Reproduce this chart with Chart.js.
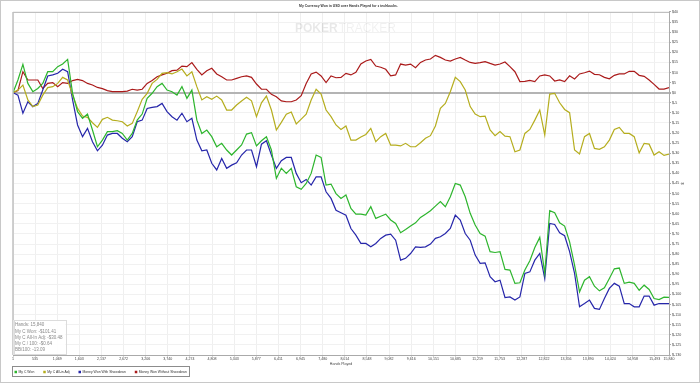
<!DOCTYPE html>
<html><head><meta charset="utf-8">
<script src="https://cdn.jsdelivr.net/npm/chart.js@4.4.1/dist/chart.umd.min.js"></script>
<style>html,body{margin:0;padding:0;background:#fff;} #wrap{position:relative;width:700px;height:383px;}</style>
</head><body><div id="wrap"><canvas id="c"></canvas></div>
<script>
const hands = [1,120,240,360,480,600,720,840,960,1080,1200,1320,1440,1560,1680,1800,1920,2040,2160,2280,2400,2520,2640,2760,2880,3000,3120,3240,3360,3480,3600,3720,3840,3960,4080,4200,4320,4440,4560,4680,4800,4920,5040,5160,5280,5400,5520,5640,5760,5880,6000,6120,6240,6360,6480,6600,6720,6840,6960,7080,7200,7320,7440,7560,7680,7800,7920,8040,8160,8280,8400,8520,8640,8760,8880,9000,9120,9240,9360,9480,9600,9720,9840,9960,10080,10200,10320,10440,10560,10680,10800,10920,11040,11160,11280,11400,11520,11640,11760,11880,12000,12120,12240,12360,12480,12600,12720,12840,12960,13080,13200,13320,13440,13560,13680,13800,13920,14040,14160,14280,14400,14520,14640,14760,14880,15000,15120,15240,15360,15480,15600,15720,15840];

const myCWon = [0,6.3,14,4.6,0.5,2.1,4.6,10.4,10.4,12.9,14.2,16.5,-0.3,-9.4,-12.7,-10.6,-18.5,-26.8,-23.5,-19.3,-19.3,-18.8,-20.2,-23.5,-20.2,-13.6,-10.6,-2.8,-0.3,3.0,4.6,1.3,0.5,-1.2,3.0,-2.8,1.3,-13.6,-20.2,-18.5,-21.8,-26.8,-25.1,-28.4,-30.9,-28.4,-25.9,-20.5,-19.8,-26.4,-23.8,-21.8,-28.4,-42.5,-37.5,-40.0,-37.5,-46.6,-47.9,-45.0,-40.0,-30.9,-32.1,-45.8,-45.3,-50.0,-52.4,-50.7,-57.4,-60.2,-60.2,-60.7,-56.5,-62.3,-61.2,-60.2,-63.1,-64.8,-69.4,-67.8,-66.1,-64.5,-61.8,-60.2,-58.5,-56.2,-54.0,-56.5,-51.6,-45.0,-45.8,-51.6,-59.8,-65.6,-69.8,-71.1,-78.8,-79.2,-78.8,-87.6,-87.9,-94.5,-94.2,-87.9,-83.3,-76.7,-71.7,-89.6,-58.5,-59.5,-64.5,-66.1,-73.9,-85.5,-98.7,-92.9,-91.2,-95.9,-98.2,-96.7,-92.1,-87.3,-86.9,-94.5,-93.9,-94.5,-97.9,-95.4,-97.5,-102.0,-102.5,-101.3,-101.41];

const myCAllInAdj = [0,1.3,3.8,-3.6,-6.9,-6.1,-1.2,2.5,3.0,4.6,7.6,6.3,-1.2,-7.8,-11.6,-12.2,-14.9,-17.2,-13.2,-12.2,-13.6,-13.9,-14.4,-16.5,-15.2,-9.4,-3.3,-0.3,4.6,6.6,9.6,9.9,9.3,10.4,11.7,8.3,10.4,3.0,-3.6,-2.0,-3.3,-1.7,-3.6,-8.6,-8.6,-6.1,-4.1,-2.3,-4.0,-11.9,-5.0,-1.7,-8.6,-18.5,-14.7,-10.7,-9.6,-15.5,-13.1,-10.6,-3.6,1.7,-0.7,-8.6,-11.9,-16.0,-18.2,-16.5,-23.5,-23.5,-22.0,-20.7,-17.7,-24.3,-21.8,-20.2,-26.0,-26.0,-26.4,-25.1,-26.8,-26.8,-24.8,-22.6,-21.3,-16.5,-7.8,-5.3,0.5,7.6,5.5,1.3,-6.9,-10.6,-11.9,-11.6,-18.5,-21.3,-19.3,-21.5,-21.8,-29.3,-28.4,-20.2,-18.2,-13.6,-8.6,-21.0,-0.7,-0.3,-5.0,-8.3,-9.9,-28.4,-30.4,-21.8,-20.2,-27.6,-28.1,-26.8,-23.5,-18.2,-17.2,-20.2,-20.2,-21.8,-29.8,-25.1,-25.5,-30.9,-29.3,-31.1,-30.48];

const wonWithSD = [0,-1.2,-10.2,-4.5,-6.9,-5.3,1.3,8.3,8.8,9.6,11.6,10.4,-3.6,-16.0,-21.8,-17.7,-24.3,-28.8,-26.0,-21.0,-20.2,-20.2,-22.6,-24.3,-21.8,-14.4,-13.6,-7.8,-7.3,-6.9,-5.3,-9.4,-11.9,-13.6,-10.2,-14.4,-12.7,-23.5,-28.8,-28.4,-35.0,-38.3,-32.6,-37.5,-35.9,-34.7,-30.9,-28.4,-28.4,-36.7,-25.5,-23.8,-30.9,-37.5,-33.7,-32.1,-32.1,-40.0,-44.6,-43.0,-45.8,-41.7,-41.7,-49.1,-52.4,-58.3,-59.5,-60.7,-67.3,-70.6,-74.7,-74.7,-76.4,-74.7,-72.2,-70.6,-70.1,-73.1,-83.0,-82.1,-79.7,-76.4,-76.7,-76.4,-75.0,-72.2,-71.4,-69.8,-67.3,-60.7,-63.1,-69.8,-73.1,-80.5,-84.6,-84.3,-91.2,-93.7,-92.9,-101.5,-101.2,-102.8,-101.2,-89.6,-88.8,-83.0,-79.7,-92.1,-64.8,-65.3,-69.4,-70.9,-78.8,-89.6,-106.1,-104.5,-102.8,-106.9,-107.4,-102.0,-97.0,-94.5,-95.9,-104.5,-104.5,-106.1,-106.1,-100.8,-100.8,-105.3,-104.5,-104.5,-104.5];

const wonWithoutSD = [0,1.0,10.4,6.3,6.3,6.3,2.1,4.6,5.0,3.0,5.0,4.6,6.0,6.6,6.0,4.6,3.8,2.6,2.0,1.0,0.5,0.5,0.5,0.8,1.7,1.3,1.7,4.6,6.0,7.9,8.8,9.6,10.9,11.2,13.2,12.9,14.9,11.6,8.8,10.9,12.1,9.3,7.9,6.3,6.3,7.1,7.9,8.3,7.6,4.3,1.7,1.7,-0.8,-2.0,-4.1,-4.5,-4.5,-3.6,-1.5,4.6,9.3,10.2,8.3,5.0,8.3,7.4,7.6,9.6,8.8,10.1,14.2,15.7,16.5,13.2,12.6,11.6,8.3,8.8,14.2,13.7,14.2,12.4,15.0,16.2,16.7,18.5,17.5,16.2,15.7,16.7,17.5,16.2,15.0,14.5,14.9,15.4,14.5,13.7,14.2,15.2,12.9,10.4,5.5,5.6,6.1,5.5,8.3,8.8,8.3,5.8,6.3,5.5,8.4,6.8,9.3,9.9,10.7,9.1,8.9,7.6,6.9,8.6,9.3,9.3,10.6,10.6,8.6,8.1,6.3,4.1,1.8,1.8,2.5];

const xTickValues = [1,535,1069,1603,2137,2672,3206,3740,4274,4808,5343,5877,6411,6945,7480,8014,8548,9082,9616,10151,10685,11219,11753,12287,12822,13356,13890,14424,14958,15493,15840];
const seriesNames = ['My C Won','My C All-in Adj','Money Won With Showdown','Money Won Without Showdown'];
const seriesColors = ['#2db52d','#b5ad1e','#2626aa','#aa1a1a'];
const statsLines = ['Hands: 15,840','My C Won: -$101.41','My C All-In Adj: -$30.48','My C / 100: -$0.64','BB/100: -13.09'];
const titleText = 'My Currency Won in USD over Hands Played for \u2666 techbucks.';

const FONT = "'Liberation Sans', Arial, sans-serif";
const seriesValues = [myCWon, myCAllInAdj, wonWithSD, wonWithoutSD];

const decor = {
  id: 'decor',
  beforeDraw(chart) {
    const c = chart.ctx;
    c.save();
    c.fillStyle = '#fff';
    c.fillRect(0, 0, chart.width, chart.height);
    c.strokeStyle = '#c8c8c8';
    c.lineWidth = 1;
    c.strokeRect(0.5, 0.5, chart.width - 1, chart.height - 1);
    c.restore();
  },
  beforeDatasetsDraw(chart) {
    const c = chart.ctx;
    c.save();
    c.textBaseline = 'alphabetic';
    c.font = "bold 12px " + FONT;
    c.fillStyle = 'rgba(0,0,0,0.09)';
    c.fillText('POKER', 295, 32);
    const w = c.measureText('POKER').width;
    c.font = "12px " + FONT;
    c.fillStyle = 'rgba(0,0,0,0.06)';
    c.fillText('TRACKER', 295 + w + 1, 32);
    c.restore();
  },
  afterDraw(chart) {
    const c = chart.ctx, a = chart.chartArea;
    c.save();
    c.strokeStyle = '#c0c0c0';
    c.lineWidth = 1;
    c.beginPath();
    c.moveTo(a.left, Math.round(a.top) + 0.5); c.lineTo(a.right, Math.round(a.top) + 0.5);
    c.stroke();
    c.lineWidth = 1.5;
    c.beginPath();
    c.moveTo(a.left, a.top); c.lineTo(a.left, a.bottom);
    c.stroke();
    // stats box
    const bx = a.left + 0.5, by = 320, bw = 52, bh = a.bottom - 320;
    c.fillStyle = 'rgba(255,255,255,0.9)';
    c.fillRect(bx, by, bw, bh);
    c.strokeStyle = '#dcdcdc';
    c.lineWidth = 1;
    c.strokeRect(Math.round(bx) + 0.5, by + 0.5, bw, bh - 1);
    c.fillStyle = '#8a8a8a';
    c.font = "4.5px " + FONT;
    c.textBaseline = 'middle';
    statsLines.forEach((t, i) => c.fillText(t, bx + 1.5, by + 5.2 + i * 6.25));
    // legend
    c.font = "3.4px " + FONT;
    c.textBaseline = 'middle';
    let x = 14.5;
    const ly = 372;
    seriesNames.forEach((name, i) => {
      c.fillStyle = seriesColors[i];
      c.fillRect(x, ly - 1.25, 2.5, 2.5);
      c.fillStyle = '#333';
      c.fillText(name, x + 4, ly);
      x += 4 + c.measureText(name).width + 9;
    });
    c.strokeStyle = '#8c8c8c';
    c.lineWidth = 1;
    c.strokeRect(12.5, 366.5, Math.round(x - 9 + 3 - 12.5), 10);
    c.restore();
  }
};

new Chart(document.getElementById('c'), {
  type: 'line',
  data: {
    datasets: seriesNames.map((name, i) => ({
      label: name,
      data: hands.map((h, j) => ({x: h, y: seriesValues[i][j]})),
      borderColor: seriesColors[i],
      backgroundColor: seriesColors[i],
      borderWidth: 1.2,
      pointRadius: 0,
      tension: 0,
      fill: false
    }))
  },
  options: {
    responsive: true,
    maintainAspectRatio: false,
    animation: false,
    events: [],
    layout: {padding: {left: 13, right: 16, top: 0, bottom: 17}},
    plugins: {
      title: {display: true, text: titleText, color: '#333', font: {size: 3.4, family: FONT}, padding: {top: 4.3, bottom: 3.6}},
      legend: {display: false},
      tooltip: {enabled: false}
    },
    scales: {
      x: {
        type: 'linear', min: 1, max: 15840,
        afterBuildTicks: s => { s.ticks = xTickValues.map(v => ({value: v})); },
        afterFit: s => { s.height = 11; },
        ticks: {autoSkip: false, maxRotation: 0, color: '#444', font: {size: 3.6, family: FONT}, padding: 0.5,
          callback: v => Number(v).toLocaleString('en-US')},
        grid: {color: '#efefef', tickLength: 1.5, tickColor: '#aaa'},
        border: {color: '#aaa', width: 1},
        title: {display: true, text: 'Hands Played', color: '#444', font: {size: 3.6, family: FONT}, padding: {top: 0.8, bottom: 0}}
      },
      y: {
        position: 'right', min: -130, max: 40,
        afterFit: s => { s.width = 15; },
        ticks: {stepSize: 5, color: '#444', font: {size: 3.6, family: FONT}, padding: 1,
          callback: v => '$' + v},
        grid: {
          color: ctx => (ctx.tick && ctx.tick.value === 0) ? '#b4b4b4' : '#f1f1f1',
          lineWidth: ctx => (ctx.tick && ctx.tick.value === 0) ? 2 : 1,
          tickLength: 2, tickColor: '#aaa'
        },
        border: {color: '#aaa', width: 1},
        title: {display: true, text: '$', color: '#444', font: {size: 3.6, family: FONT}, padding: 0}
      }
    }
  },
  plugins: [decor]
});
</script>
</body></html>
